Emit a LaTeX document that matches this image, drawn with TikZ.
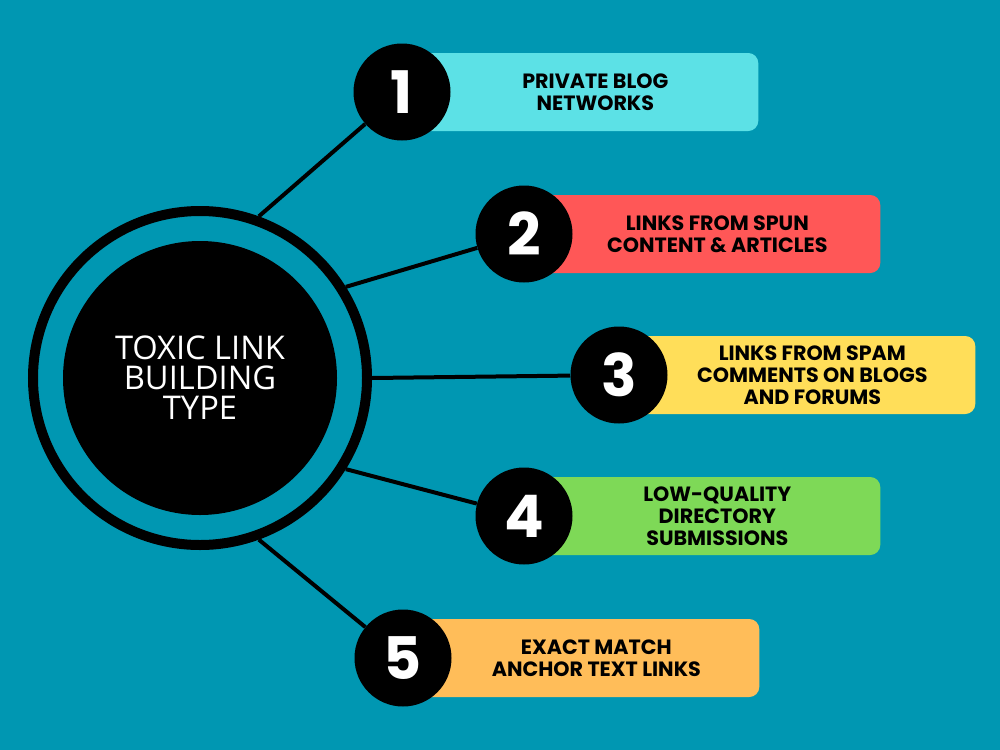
\documentclass[tikz,border=0pt]{standalone}
\usepackage{fontspec}
\setmainfont{Open Sans}
\newfontfamily\itemfont{Poppins}
\usetikzlibrary{positioning}
\definecolor{bgteal}   {RGB}{0,151,178}
\definecolor{boxcyan}  {RGB}{92,225,230}
\definecolor{boxred}   {RGB}{255,87,87}
\definecolor{boxyellow}{RGB}{255,222,89}
\definecolor{boxgreen} {RGB}{126,217,87}
\definecolor{boxorange}{RGB}{255,189,89}

\begin{document}
\begin{tikzpicture}[
  x=0.75pt,y=-0.75pt,
  itembox/.style={rectangle,rounded corners=7.5pt,minimum width=267pt,
                  minimum height=58.5pt,anchor=west,inner sep=0pt},
  numdot/.style={circle,fill=black,minimum size=72.75pt,inner sep=0pt,
                 text=white,font=\itemfont\bfseries\fontsize{44}{44}\selectfont},
  itemtext/.style={align=center,text=black,
                   font=\itemfont\bfseries\fontsize{15.5}{16.3}\selectfont},
  spoke/.style={line width=3pt},
]

%% ── Background ─────────────────────────────────────────────────────────────
\fill[bgteal] (0,0) rectangle (1000,750);

%% ── Centre: ring and disc ─────────────────────────────────────────────────
\node[circle,draw=black,line width=7.5pt,minimum size=250.5pt] (ring) at (200,378) {};
\node[circle,fill=black,minimum size=205.5pt,inner sep=0pt,text=white,align=center,
      font=\fontsize{24.5}{22.5}\selectfont] (core) at (ring.center)
  {TOXIC LINK\\BUILDING\\TYPE};

%% ── Item 1 ────────────────────────────────────────────────────────────────
\node[itembox,fill=boxcyan] (b1) at (402,92) {};
\node[numdot] (n1) at (b1.west) {1};
\node[itemtext] (t1) at ([xshift=145pt]n1.center)
  {PRIVATE BLOG\\NETWORKS};

%% ── Item 2 ────────────────────────────────────────────────────────────────
\node[itembox,fill=boxred] (b2) at (524,234) {};
\node[numdot] (n2) at (b2.west) {2};
\node[itemtext] (t2) at ([xshift=145pt]n2.center)
  {LINKS FROM SPUN\\CONTENT \& ARTICLES};

%% ── Item 3 ────────────────────────────────────────────────────────────────
\node[itembox,fill=boxyellow] (b3) at (619,375) {};
\node[numdot] (n3) at (b3.west) {3};
\node[itemtext] (t3) at ([xshift=145pt]n3.center)
  {LINKS FROM SPAM\\COMMENTS ON BLOGS\\AND FORUMS};

%% ── Item 4 ────────────────────────────────────────────────────────────────
\node[itembox,fill=boxgreen] (b4) at (524,516) {};
\node[numdot] (n4) at (b4.west) {4};
\node[itemtext] (t4) at ([xshift=145pt]n4.center)
  {LOW-QUALITY\\DIRECTORY\\SUBMISSIONS};

%% ── Item 5 ────────────────────────────────────────────────────────────────
\node[itembox,fill=boxorange] (b5) at (403,658) {};
\node[numdot] (n5) at (b5.west) {5};
\node[itemtext] (t5) at ([xshift=145pt]n5.center)
  {EXACT MATCH\\ANCHOR TEXT LINKS};

%% ── Spokes from ring to numbers ───────────────────────────────────────────
\draw[spoke] (ring.70)  -- (n1);
\draw[spoke] (ring.32)  -- (n2);
\draw[spoke] (ring.0)   -- (n3);
\draw[spoke] (ring.-32) -- (n4);
\draw[spoke] (ring.-70) -- (n5);

\end{tikzpicture}
\end{document}
